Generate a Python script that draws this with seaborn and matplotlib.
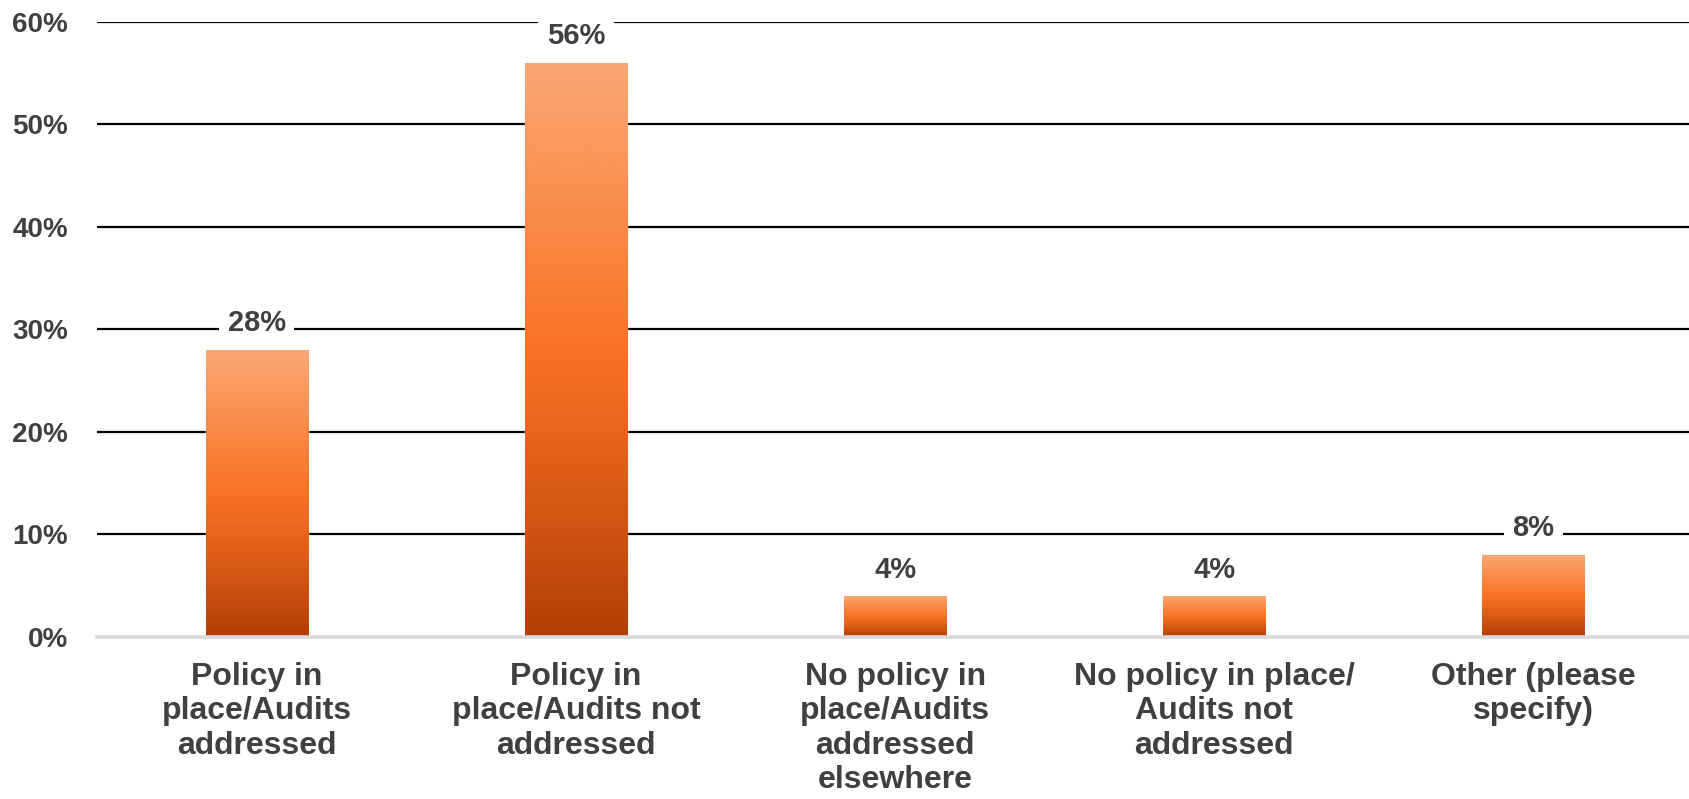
import numpy as np
import pandas as pd
import matplotlib
matplotlib.use("Agg")
import matplotlib.pyplot as plt
from matplotlib.colors import LinearSegmentedColormap
import seaborn as sns

categories = [
    "Policy in\nplace/Audits\naddressed",
    "Policy in\nplace/Audits not\naddressed",
    "No policy in\nplace/Audits\naddressed\nelsewhere",
    "No policy in place/\nAudits not\naddressed",
    "Other (please\nspecify)",
]
values = [0.28, 0.56, 0.04, 0.04, 0.08]
y_ticks = [0.0, 0.1, 0.2, 0.3, 0.4, 0.5, 0.6]
y_tick_labels = ["0%", "10%", "20%", "30%", "40%", "50%", "60%"]

sns.set_theme(style="white")
plt.rcParams["font.family"] = ["Liberation Sans", "DejaVu Sans"]

text_color = "#404040"
df = pd.DataFrame({"category": categories, "value": values})

fig = plt.figure(figsize=(16.9, 7.99), dpi=100)
ax = fig.add_axes([0.0574, 0.2027, 0.9426, 0.7703])

sns.barplot(data=df, x="category", y="value", color="#F97325", width=0.32,
            saturation=1, ax=ax, zorder=3)

# vertical orange gradient filling each bar
grad_cmap = LinearSegmentedColormap.from_list(
    "bar_grad", ["#B23F06", "#D95A16", "#F97325", "#FA8D4C", "#FAA877"])
gradient = np.linspace(0, 1, 256).reshape(-1, 1)
for patch in ax.patches:
    x0, y0 = patch.get_x(), patch.get_y()
    w, h = patch.get_width(), patch.get_height()
    img = ax.imshow(gradient, cmap=grad_cmap, aspect="auto", origin="lower",
                    extent=[x0, x0 + w, y0, y0 + h], zorder=3.5,
                    interpolation="bicubic")
    img.set_clip_path(patch)

ax.set_xlim(-0.5, 4.49)
ax.set_ylim(0, 0.6)
ax.set_yticks(y_ticks)
ax.set_yticklabels(y_tick_labels, fontsize=20, fontweight="bold", color=text_color)
ax.set_xticks(range(len(categories)))
ax.set_xticklabels(categories, fontsize=23, fontweight="bold", color=text_color,
                   linespacing=1.19, va="top")
ax.set_xlabel("")
ax.set_ylabel("")
ax.tick_params(axis="x", length=0, pad=18)
ax.tick_params(axis="y", length=0, pad=21)

for y in y_ticks[1:]:
    ax.axhline(y, color="black", lw=1.6, zorder=1)
for s in ["left", "right", "top"]:
    ax.spines[s].set_visible(False)
ax.spines["bottom"].set_color("#D9D9D9")
ax.spines["bottom"].set_linewidth(2.6)
ax.spines["bottom"].set_zorder(4)

for i, v in enumerate(values):
    ax.annotate(f"{v * 100:.0f}%", xy=(i, v), xytext=(0, 9),
                textcoords="offset points", ha="center", va="bottom",
                fontsize=21, fontweight="bold", color=text_color, zorder=5,
                bbox=dict(boxstyle="square,pad=0.3", fc="white", ec="none"))

fig.savefig("out.png", dpi=100, facecolor="white")
